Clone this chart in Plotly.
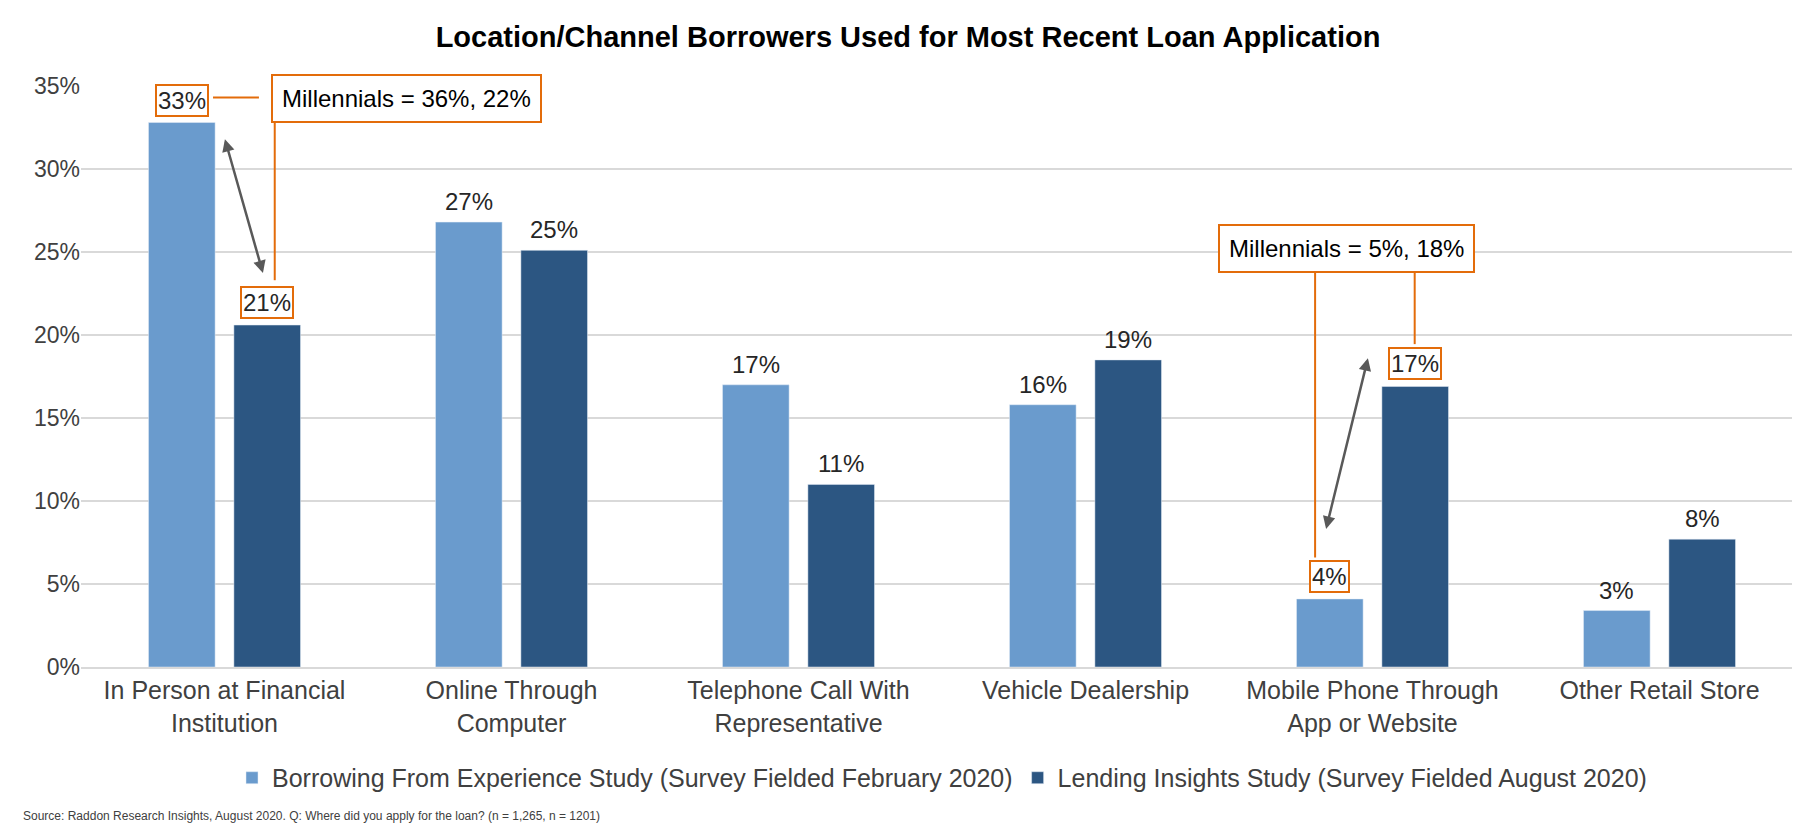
import plotly.graph_objects as go

categories = ["In Person at Financial<br>Institution", "Online Through<br>Computer",
              "Telephone Call With<br>Representative", "Vehicle Dealership",
              "Mobile Phone Through<br>App or Website", "Other Retail Store"]
series1_name = "Borrowing From Experience Study (Survey Fielded February 2020)"
series2_name = "Lending Insights Study (Survey Fielded August 2020)"
series1 = [32.8, 26.8, 17.0, 15.8, 4.1, 3.4]
series2 = [20.6, 25.1, 11.0, 18.5, 16.9, 7.7]
labels1 = ["33%", "27%", "17%", "16%", "4%", "3%"]
labels2 = ["21%", "25%", "11%", "19%", "17%", "8%"]
boxed1 = [True, False, False, False, True, False]
boxed2 = [True, False, False, False, True, False]

C1, C2, OR, GR = "#6a9bcd", "#2c5682", "#e36c0a", "#595959"
FONT = "Liberation Sans, Arial, sans-serif"
xs = list(range(len(categories)))
off = 0.149

fig = go.Figure()
fig.add_bar(x=xs, y=series1, name=series1_name, marker_color=C1)
fig.add_bar(x=xs, y=series2, name=series2_name, marker_color=C2)

ann = []
for i in xs:
    for v, lab, bx, dx in [(series1[i], labels1[i], boxed1[i], -off), (series2[i], labels2[i], boxed2[i], off)]:
        ann.append(dict(x=i + dx, y=v, text=lab, showarrow=False, yanchor="bottom", yshift=6,
                        font=dict(size=24, color="#262626", family=FONT),
                        bordercolor=OR if bx else "rgba(0,0,0,0)", borderwidth=2 if bx else 0,
                        borderpad=1, bgcolor="white" if bx else "rgba(0,0,0,0)"))
ann += [
    dict(x=0.635, y=34.27, text="Millennials = 36%, 22%", showarrow=False, font=dict(size=24, color="black", family=FONT),
         bordercolor=OR, borderwidth=2, borderpad=9, bgcolor="white"),
    dict(x=3.91, y=25.21, text="Millennials = 5%, 18%", showarrow=False, font=dict(size=24, color="black", family=FONT),
         bordercolor=OR, borderwidth=2, borderpad=9, bgcolor="white"),
    dict(x=0.134, y=23.73, ax=0.0, ay=31.89, axref="x", ayref="y", text="", showarrow=True,
         arrowhead=2, arrowside="end+start", arrowwidth=2.5, arrowcolor=GR, arrowsize=1),
    dict(x=3.984, y=18.6, ax=3.837, ay=8.23, axref="x", ayref="y", text="", showarrow=True,
         arrowhead=2, arrowside="end+start", arrowwidth=2.5, arrowcolor=GR, arrowsize=1),
    dict(x=-0.035, y=-0.256, xref="paper", yref="paper", xanchor="left", yanchor="middle", showarrow=False,
         text="Source: Raddon Research Insights, August 2020. Q: Where did you apply for the loan? (n = 1,265, n = 1201)",
         font=dict(size=12, color="#404040", family=FONT)),
]

shapes = [
    dict(type="line", x0=-0.04, x1=0.12, y0=34.3, y1=34.3, line=dict(color=OR, width=2), layer="below"),
    dict(type="line", x0=0.175, x1=0.175, y0=32.9, y1=23.3, line=dict(color=OR, width=2)),
    dict(type="line", x0=3.80, x1=3.80, y0=23.8, y1=6.6, line=dict(color=OR, width=2)),
    dict(type="line", x0=4.147, x1=4.147, y0=23.8, y1=19.45, line=dict(color=OR, width=2)),
]

fig.update_layout(
    width=1800, height=826, plot_bgcolor="white", paper_bgcolor="white",
    margin=dict(l=73, r=5, t=78, b=167),
    barmode="group", bargap=0.405, bargroupgap=0.22,
    title=dict(text="<b>Location/Channel Borrowers Used for Most Recent Loan Application</b>",
               x=0.5, xanchor="center", y=0.965, yanchor="middle", font=dict(size=29, color="black", family=FONT)),
    xaxis=dict(tickvals=xs, ticktext=categories, range=[-0.5, 5.5], showgrid=False,
               tickfont=dict(size=25, color="#404040", family=FONT), ticks="", showline=True, linecolor="#d9d9d9", linewidth=2),
    yaxis=dict(range=[0, 35], dtick=5, ticksuffix="%", showgrid=True, gridcolor="#d9d9d9", gridwidth=2,
               tickfont=dict(size=23, color="#404040", family=FONT), zeroline=False),
    legend=dict(orientation="h", x=0.5, xanchor="center", y=-0.191, yanchor="middle",
                font=dict(size=25, color="#404040", family=FONT)),
    annotations=ann, shapes=shapes, showlegend=True,
)
fig.write_html("out.html")
